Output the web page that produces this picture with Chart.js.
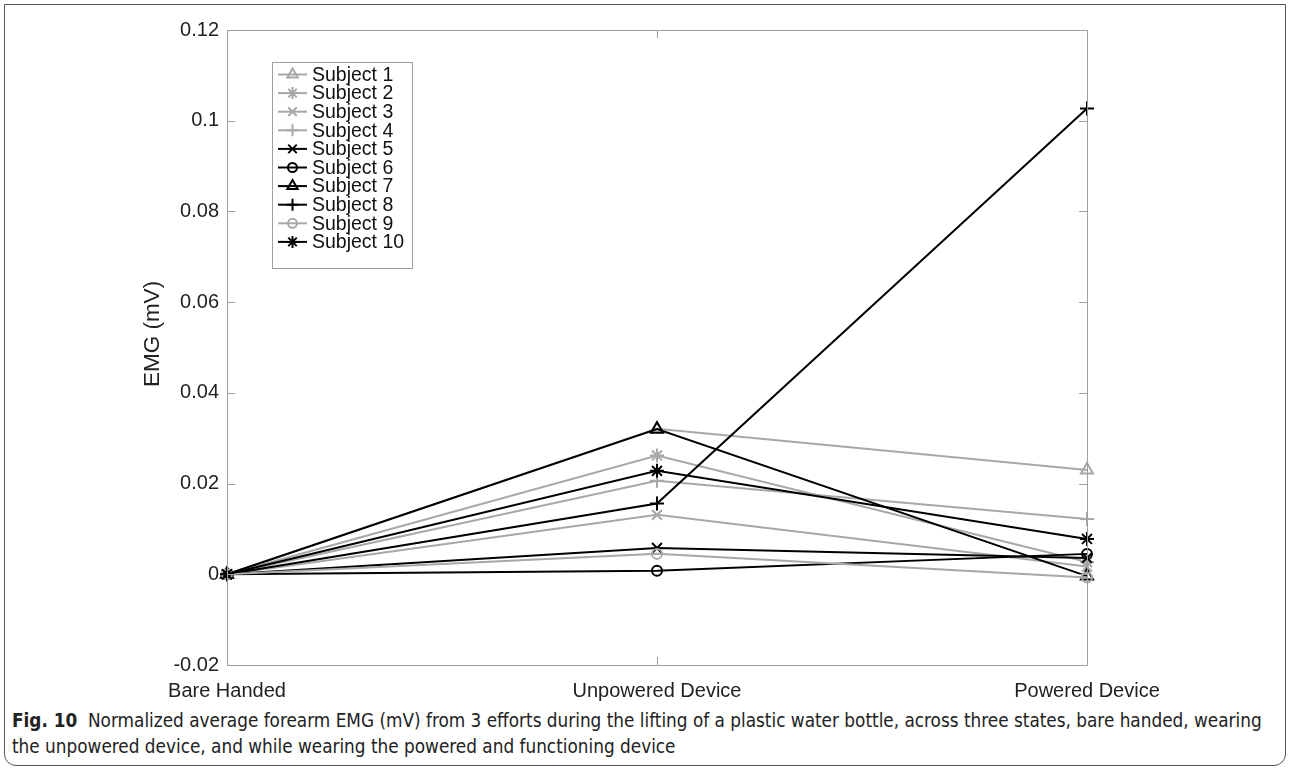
<!DOCTYPE html>
<html>
<head>
<meta charset="utf-8">
<script src="https://cdn.jsdelivr.net/npm/chart.js@4/dist/chart.umd.min.js"></script>
<style>
  html, body { margin: 0; padding: 0; background: #fff; }
  #wrap { position: relative; width: 1290px; height: 771px; overflow: hidden; background: #fff; }
  #frame { position: absolute; left: 4px; top: 4px; width: 1282px; height: 762px; border: 1.5px solid #555; border-radius: 0 0 12px 12px; box-sizing: border-box; }
  #chart { position: absolute; left: 0; top: 0; }
  #caption { position: absolute; left: 12px; top: 708px; font-family: "DejaVu Sans Condensed", "Liberation Sans Narrow", "Noto Sans", sans-serif; font-size: 18.8px; line-height: 26px; color: #222; white-space: nowrap; }
  #caption b { font-weight: bold; }
</style>
</head>
<body>
<div id="wrap">
  <div id="frame"></div>
  <canvas id="chart" width="1290" height="705"></canvas>
  <div id="caption"><b>Fig. 10</b>&nbsp; Normalized average forearm EMG (mV) from 3 efforts during the lifting of a plastic water bottle, across three states, bare handed, wearing<br>the unpowered device, and while wearing the powered and functioning device</div>
</div>
<script>
// Conditions on the x axis
const conditions = ['Bare Handed', 'Unpowered Device', 'Powered Device'];

// Normalized average EMG (mV) per subject, one value per condition
const subject1  = [0, 0.0321, 0.0230];
const subject2  = [0, 0.0262, 0.0027];
const subject3  = [0, 0.0131, 0.0017];
const subject4  = [0, 0.0206, 0.0122];
const subject5  = [0, 0.0058, 0.0036];
const subject6  = [0, 0.0008, 0.0045];
const subject7  = [0, 0.0320, -0.0004];
const subject8  = [0, 0.0156, 0.1027];
const subject9  = [0, 0.0045, -0.0007];
const subject10 = [0, 0.0228, 0.0078];

// Y axis tick values
const yTicks = [-0.02, 0, 0.02, 0.04, 0.06, 0.08, 0.1, 0.12];

const GRAY = '#a8a8a8';
const BLACK = '#000000';
const AXIS = '#9e9e9e';
const FONT = '"Liberation Sans", Arial, Helvetica, sans-serif';

const series = [
  { label: 'Subject 1',  data: subject1,  color: GRAY,  style: 'triangle' },
  { label: 'Subject 2',  data: subject2,  color: GRAY,  style: 'star' },
  { label: 'Subject 3',  data: subject3,  color: GRAY,  style: 'crossRot' },
  { label: 'Subject 4',  data: subject4,  color: GRAY,  style: 'cross' },
  { label: 'Subject 5',  data: subject5,  color: BLACK, style: 'crossRot' },
  { label: 'Subject 6',  data: subject6,  color: BLACK, style: 'circle' },
  { label: 'Subject 7',  data: subject7,  color: BLACK, style: 'triangle' },
  { label: 'Subject 8',  data: subject8,  color: BLACK, style: 'cross' },
  { label: 'Subject 9',  data: subject9,  color: GRAY,  style: 'circle' },
  { label: 'Subject 10', data: subject10, color: BLACK, style: 'star' }
];

const datasets = series.map((s, i) => ({
  label: s.label,
  data: s.data,
  borderColor: s.color,
  borderWidth: 2,
  pointStyle: s.style,
  pointRadius: s.style === 'circle' ? 5 : 7,
  pointBorderWidth: 2,
  pointBorderColor: s.color,
  pointBackgroundColor: 'rgba(0,0,0,0)',
  pointHoverRadius: 7,
  tension: 0,
  fill: false,
  order: series.length - i   // later subjects drawn on top
}));

// Box around the plot area with inward tick marks on all four sides
const boxPlugin = {
  id: 'boxTicks',
  afterDatasetsDraw(chart) {
    const { ctx, chartArea: a, scales } = chart;
    ctx.save();
    ctx.strokeStyle = AXIS;
    ctx.lineWidth = 1;
    ctx.beginPath();
    ctx.rect(a.left + 0.5, a.top + 0.5, a.right - a.left, a.bottom - a.top);
    ctx.stroke();
    const tl = 8;
    ctx.beginPath();
    yTicks.forEach(v => {
      const y = Math.round(scales.y.getPixelForValue(v)) + 0.5;
      ctx.moveTo(a.left, y); ctx.lineTo(a.left + tl, y);
      ctx.moveTo(a.right, y); ctx.lineTo(a.right - tl, y);
    });
    conditions.forEach((c, i) => {
      const x = Math.round(scales.x.getPixelForValue(i)) + 0.5;
      ctx.moveTo(x, a.bottom); ctx.lineTo(x, a.bottom - tl);
      ctx.moveTo(x, a.top); ctx.lineTo(x, a.top + tl);
    });
    ctx.stroke();
    ctx.restore();
  }
};

// Legend box drawn inside the plot area, upper left
const legendPlugin = {
  id: 'insideLegend',
  afterDraw(chart) {
    const { ctx } = chart;
    const x0 = 272, y0 = 62, w = 140, h = 206;
    ctx.save();
    ctx.fillStyle = '#fff';
    ctx.fillRect(x0, y0, w, h);
    ctx.strokeStyle = AXIS;
    ctx.lineWidth = 1;
    ctx.strokeRect(x0 + 0.5, y0 + 0.5, w, h);
    ctx.font = '19.5px ' + FONT;
    ctx.textBaseline = 'middle';
    ctx.textAlign = 'left';
    series.forEach((s, i) => {
      const y = y0 + 12.5 + i * 18.6;
      ctx.strokeStyle = s.color;
      ctx.lineWidth = 2;
      ctx.beginPath();
      ctx.moveTo(x0 + 6, y); ctx.lineTo(x0 + 35, y);
      ctx.stroke();
      ctx.fillStyle = 'rgba(0,0,0,0)';
      Chart.helpers.drawPoint(ctx, {
        pointStyle: s.style,
        radius: s.style === 'circle' ? 4.5 : 6,
        borderWidth: 2,
        rotation: 0
      }, x0 + 20.5, y);
      ctx.fillStyle = '#111';
      ctx.fillText(s.label, x0 + 40, y + 1);
    });
    ctx.restore();
  }
};

// Rotated y axis title
const yTitlePlugin = {
  id: 'yTitle',
  afterDraw(chart) {
    const { ctx } = chart;
    ctx.save();
    ctx.translate(153, 334);
    ctx.rotate(-Math.PI / 2);
    ctx.font = '22.5px ' + FONT;
    ctx.fillStyle = '#222';
    ctx.textAlign = 'center';
    ctx.textBaseline = 'middle';
    ctx.fillText('EMG (mV)', 0, 0);
    ctx.restore();
  }
};

new Chart(document.getElementById('chart'), {
  type: 'line',
  data: { labels: conditions, datasets },
  options: {
    responsive: false,
    animation: false,
    devicePixelRatio: 1,
    layout: { padding: { left: 0, top: 30, right: 203, bottom: 0 } },
    plugins: {
      legend: { display: false },
      tooltip: { enabled: false }
    },
    scales: {
      x: {
        type: 'category',
        offset: false,
        grid: { display: false, drawTicks: false },
        border: { display: false },
        ticks: {
          color: '#222',
          font: { family: FONT, size: 20 },
          padding: 14,
          maxRotation: 0,
          autoSkip: false
        },
        afterFit(scale) { scale.height = 40; }
      },
      y: {
        min: -0.02,
        max: 0.12,
        grid: { display: false, drawTicks: false },
        border: { display: false },
        afterBuildTicks(scale) { scale.ticks = yTicks.map(v => ({ value: v })); },
        ticks: {
          color: '#222',
          font: { family: FONT, size: 20 },
          padding: 8,
          callback: v => String(+v.toFixed(2))
        },
        afterFit(scale) { scale.width = 227; }
      }
    }
  },
  plugins: [boxPlugin, legendPlugin, yTitlePlugin]
});
</script>
</body>
</html>
